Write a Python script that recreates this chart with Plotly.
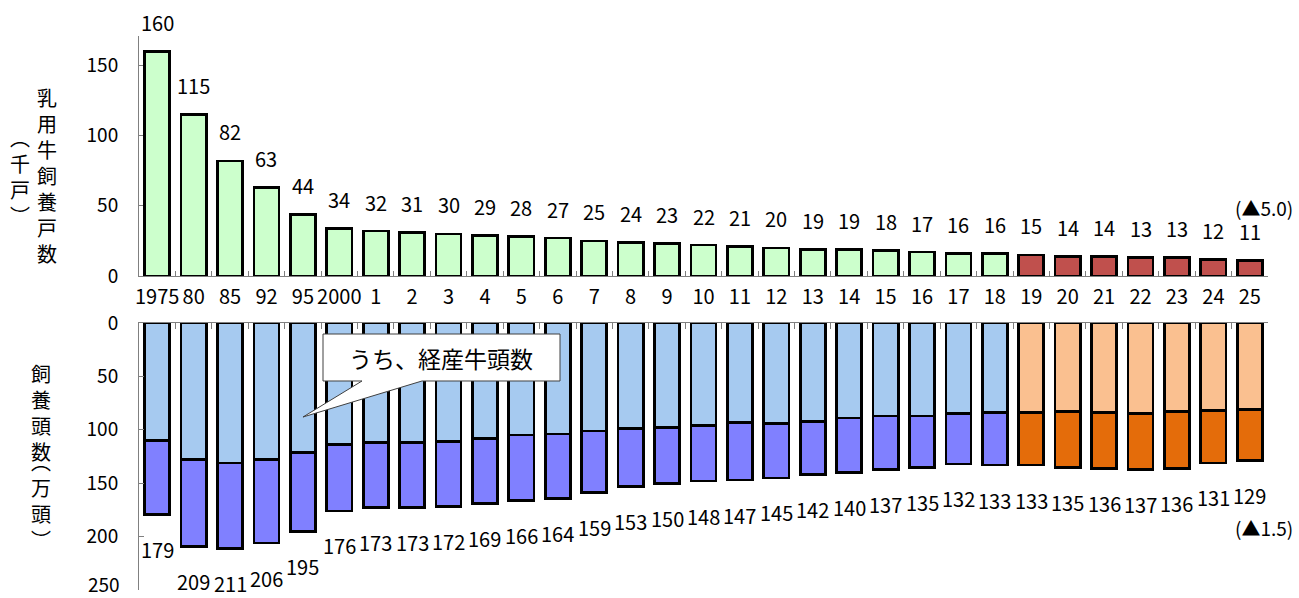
import plotly.graph_objects as go

# ---- data ----
years = ["1975", "80", "85", "92", "95", "2000"] + [str(i) for i in range(1, 26)]
farms = [160, 115, 82, 63, 44, 34, 32, 31, 30, 29, 28, 27, 25, 24, 23, 22, 21, 20,
         19, 19, 18, 17, 16, 16, 15, 14, 14, 13, 13, 12, 11]
total_head = [179, 209, 211, 206, 195, 176, 173, 173, 172, 169, 166, 164, 159, 153,
              150, 148, 147, 145, 142, 140, 137, 135, 132, 133, 133, 135, 136, 137,
              136, 131, 129]
milking_head = [110, 128, 131, 128, 121, 114, 112, 112, 111, 108, 105, 104, 101, 99,
                98, 96, 93, 94, 92, 89, 87, 87, 85, 84, 84, 83, 84, 85, 83, 82, 81]
recent_years = ["19", "20", "21", "22", "23", "24", "25"]
farm_change = "(▲5.0)"
head_change = "(▲1.5)"
callout_text = "うち、経産牛頭数"
y2_ticks = [0, 50, 100, 150, 200, 250]

other_head = [t - m for t, m in zip(total_head, milking_head)]
is_recent = [y in recent_years for y in years]
n = len(years)

FONT = "Noto Sans CJK JP"
W, H = 1299, 598
ML, MR, MT, MB = 139, 31, 36, 8
PW, PH = W - ML - MR, H - MT - MB


def px_x(p):
    return (p - ML) / PW


def px_y(p):
    return (H - MB - p) / PH


fig = go.Figure()

fig.add_trace(go.Bar(
    x=years, y=farms, xaxis="x", yaxis="y",
    marker=dict(color=["#C0504D" if r else "#CCFFCC" for r in is_recent],
                line=dict(color="black", width=2.7)),
    showlegend=False, hoverinfo="skip"))

fig.add_trace(go.Bar(
    x=years, y=milking_head, xaxis="x2", yaxis="y2",
    marker=dict(color=["#FAC090" if r else "#A6CAF0" for r in is_recent],
                line=dict(color="black", width=2.7)),
    showlegend=False, hoverinfo="skip"))

fig.add_trace(go.Bar(
    x=years, y=other_head, xaxis="x2", yaxis="y2",
    marker=dict(color=["#E46C0A" if r else "#8080FF" for r in is_recent],
                line=dict(color="black", width=2.7)),
    showlegend=False, hoverinfo="skip"))

annotations = []
for i, v in enumerate(farms):
    annotations.append(dict(x=i, y=v, xref="x", yref="y", text=str(v),
                            showarrow=False, yshift=29, yanchor="middle",
                            font=dict(size=20, color="black", family=FONT)))
for i, v in enumerate(total_head):
    annotations.append(dict(x=i, y=v, xref="x2", yref="y2", text=str(v),
                            showarrow=False, yshift=-35, yanchor="middle",
                            font=dict(size=20, color="black", family=FONT)))

# last lower-axis tick label (plotly drops it at the paper edge)
annotations.append(dict(x=px_x(122), y=y2_ticks[-1], xref="paper", yref="y2",
                        text=str(y2_ticks[-1]), showarrow=False, xanchor="right",
                        yanchor="bottom", yshift=-9,
                        font=dict(size=19, color="black", family=FONT)))

annotations += [
    dict(x=px_x(1264), y=px_y(208), xref="paper", yref="paper", text=farm_change,
         showarrow=False, xanchor="center", yanchor="middle",
         font=dict(size=19, color="black", family=FONT)),
    dict(x=px_x(1264), y=px_y(527), xref="paper", yref="paper", text=head_change,
         showarrow=False, xanchor="center", yanchor="middle",
         font=dict(size=19, color="black", family=FONT)),
    dict(x=px_x(441), y=px_y(358), xref="paper", yref="paper", text=callout_text,
         showarrow=False, xanchor="center", yanchor="middle",
         font=dict(size=23, color="black", family=FONT)),
    # axis titles (vertical)
    dict(x=px_x(47), y=px_y(175), xref="paper", yref="paper",
         text="乳<br>用<br>牛<br>飼<br>養<br>戸<br>数", showarrow=False,
         xanchor="center", yanchor="middle",
         font=dict(size=20, color="black", family=FONT)),
    dict(x=px_x(20), y=px_y(176), xref="paper", yref="paper",
         text="︵<br>千<br>戸<br>︶", showarrow=False,
         xanchor="center", yanchor="middle",
         font=dict(size=20, color="black", family=FONT)),
    dict(x=px_x(41), y=px_y(412), xref="paper", yref="paper",
         text="飼<br>養<br>頭<br>数", showarrow=False,
         xanchor="center", yanchor="middle",
         font=dict(size=20, color="black", family=FONT)),
    dict(x=px_x(41), y=px_y(500), xref="paper", yref="paper",
         text="︵<br>万<br>頭<br>︶", showarrow=False,
         xanchor="center", yanchor="middle",
         font=dict(size=20, color="black", family=FONT)),
]

# callout box with pointer
pts = [(323, 334), (560, 334), (560, 381), (422, 381), (303, 417), (362, 381), (323, 381)]
path = "M " + " L ".join(f"{px_x(a):.5f},{px_y(b):.5f}" for a, b in pts) + " Z"
shapes = [dict(type="path", path=path, xref="paper", yref="paper",
               fillcolor="white", line=dict(color="#404040", width=1), layer="above")]

axis_common = dict(showline=True, linecolor="#808080", linewidth=1,
                   showgrid=False, zeroline=False, automargin=False)

fig.update_layout(
    width=W, height=H,
    margin=dict(l=ML, r=MR, t=MT, b=MB),
    paper_bgcolor="white", plot_bgcolor="white",
    barmode="stack", bargap=0.31,
    font=dict(family=FONT, color="black", size=19),
    xaxis=dict(domain=[0, 1], anchor="y", type="category", categoryorder="array",
               categoryarray=years, range=[-0.5, n - 0.5], autorange=False,
               **axis_common,
               ticks="inside", ticklen=5, tickcolor="#808080", tickson="boundaries",
               tickfont=dict(size=20), ticklabelstandoff=3, tickangle=0),
    yaxis=dict(domain=[px_y(276), 1], anchor="x", range=[0, 171], **axis_common,
               tickvals=[0, 50, 100, 150], ticks="inside", ticklen=4,
               tickcolor="#808080", tickfont=dict(size=19), ticklabelstandoff=16),
    xaxis2=dict(domain=[0, 1], anchor="y2", type="category", side="top",
                categoryorder="array", categoryarray=years,
                range=[-0.5, n - 0.5], autorange=False,
                **axis_common, showticklabels=False, ticks="inside", ticklen=6,
                tickcolor="#808080", tickson="boundaries"),
    yaxis2=dict(domain=[0, px_y(323)], anchor="x2", range=[250, 0], **axis_common,
                tickvals=y2_ticks, ticktext=[str(t) for t in y2_ticks[:-1]] + [""],
                ticks="inside", ticklen=5,
                tickcolor="#808080", tickfont=dict(size=19), ticklabelstandoff=16),
    annotations=annotations,
    shapes=shapes,
)

fig.write_html("out.html", config={"displayModeBar": False},
               post_script="document.body.style.margin='0px';"
                           "document.body.style.overflow='hidden';")
